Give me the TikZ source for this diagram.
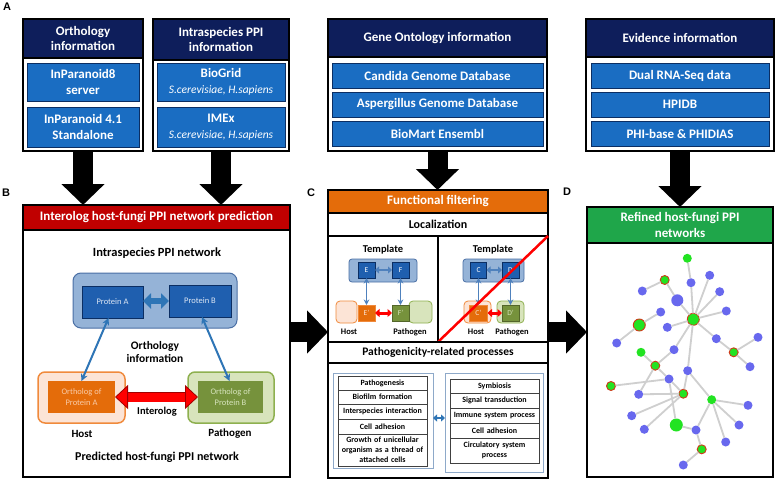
\documentclass[tikz,border=0pt]{standalone}
\usepackage{fontspec}
\setmainfont{Carlito}
\newfontfamily\labfont{Liberation Sans}
\usetikzlibrary{arrows.meta}
\definecolor{navy}{HTML}{0E1E5B}
\definecolor{dblue}{HTML}{1A6DC2}
\definecolor{dbline}{HTML}{0B2E63}
\definecolor{redhdr}{HTML}{C00000}
\definecolor{orghdr}{HTML}{E46C0A}
\definecolor{grnhdr}{HTML}{1FA64A}
\definecolor{bigrect}{HTML}{95B3D7}
\definecolor{bigrectline}{HTML}{4A6FA5}
\definecolor{protbox}{HTML}{1F5FAF}
\definecolor{prottext}{HTML}{DCE6F4}
\definecolor{orgin}{HTML}{E46C0A}
\definecolor{orgout}{HTML}{FCE4D6}
\definecolor{orgline}{HTML}{F08A3C}
\definecolor{orgtext}{HTML}{F9CBA8}
\definecolor{grnin}{HTML}{76923C}
\definecolor{grnout}{HTML}{D8E4BC}
\definecolor{grnline}{HTML}{8EB04F}
\definecolor{grntext}{HTML}{D7E4BD}
\definecolor{darkred}{HTML}{A00000}
\definecolor{arrblue}{HTML}{2E75B6}
\definecolor{thinblue}{HTML}{4F81BD}
\definecolor{framegray}{HTML}{8EA9C9}
\definecolor{nblue}{HTML}{6868EE}
\definecolor{ngreen}{HTML}{22E322}
\definecolor{nred}{HTML}{D03A1A}
\definecolor{edgegray}{HTML}{CFCFCF}
\begin{document}
\begin{tikzpicture}[x=1pt,y=-1pt,
 every node/.style={inner sep=0pt, outer sep=0pt},
 frame/.style={draw=black, line width=1.5pt, fill=white},
 hdr/.style={draw=black, line width=1.5pt, fill=navy, text=white, font=\bfseries\fontsize{13}{15.5}\selectfont, align=center},
 dbox/.style={draw=dbline, line width=0.8pt, fill=dblue, text=white, font=\bfseries\fontsize{13}{15.5}\selectfont, align=center},
 bigarr/.style={line width=20pt, -{Triangle[width=42pt,length=21pt]}},
 lab/.style={font=\labfont\bfseries\fontsize{11}{12}\selectfont},
 btxt/.style={font=\bfseries\fontsize{#1}{#1}\selectfont, align=center},
 row/.style={draw=black, line width=1.3pt, fill=white},
 trect/.style={draw=bigrectline, line width=0.8pt, fill=bigrect, rounded corners=3pt},
 pbox/.style={draw=dbline, line width=0.6pt, fill=protbox, text=white, font=\fontsize{7.5}{8}\selectfont},
 obox/.style={draw=orgline, line width=0.6pt, fill=orgin, text=orgout, font=\fontsize{7.5}{8}\selectfont},
 gbox/.style={draw=grnin!70!black, line width=0.6pt, fill=grnin, text=grnout, font=\fontsize{7.5}{8}\selectfont},
 hostbg/.style={draw=orgline, line width=0.8pt, fill=orgout, rounded corners=4pt},
 pathbg/.style={draw=grnline, line width=0.8pt, fill=grnout, rounded corners=4pt},
 thinarr/.style={draw=thinblue, line width=1.4pt, {Stealth[length=5.5pt,width=5.5pt]}-{Stealth[length=5.5pt,width=5.5pt]}},
 smallblue/.style={draw=thinblue, line width=2.6pt, {Triangle[width=7pt,length=4pt]}-{Triangle[width=7pt,length=4pt]}},
 smallred/.style={draw=red, line width=3pt, {Triangle[width=8pt,length=4.5pt]}-{Triangle[width=8pt,length=4.5pt]}},
 item/.style={draw=black!75, line width=0.6pt, fill=white, text width=89pt, align=center, font=\bfseries\fontsize{8}{9.8}\selectfont},
 nb/.style={circle, fill=nblue, minimum size=9pt},
 nbb/.style={nb, minimum size=12pt},
 ng/.style={circle, fill=ngreen, minimum size=9pt},
 ngb/.style={ng, minimum size=13pt},
 nr/.style={circle, fill=ngreen, draw=nred, line width=0.9pt, minimum size=9pt},
 nrb/.style={nr, minimum size=12pt},
 edge/.style={draw=edgegray, line width=1.8pt}
]
\useasboundingbox (0,0) rectangle (777,482);
\fill[white] (0,0) rectangle (777,482);

% ---------- panel labels
\node[lab] (lA) at (7,7) {A};
\node[lab] (lB) at (6,193) {B};
\node[lab] (lC) at (311,193) {C};
\node[lab] (lD) at (567,192) {D};

% ---------- top boxes
\node[frame, minimum width=120, minimum height=132] (o1) at (83,85) {};
\node[hdr, minimum width=120, minimum height=39] (h1) at (83,38.5) {Orthology\\information};
\node[dbox, minimum width=112, minimum height=38] (i11) at (83,82) {InParanoid8\\server};
\node[dbox, minimum width=112, minimum height=40] (i12) at (83,127) {InParanoid 4.1\\Standalone};

\node[frame, minimum width=136, minimum height=132] (o2) at (221,85) {};
\node[hdr, minimum width=136, minimum height=41] (h2) at (221,39.5) {Intraspecies PPI\\information};
\node[dbox, minimum width=128, minimum height=38] (i21) at (221,82) {BioGrid\\{\mdseries\itshape\fontsize{11.5}{13}\selectfont S.cerevisiae, H.sapiens}};
\node[dbox, minimum width=128, minimum height=40] (i22) at (221,127) {IMEx\\{\mdseries\itshape\fontsize{11.5}{13}\selectfont S.cerevisiae, H.sapiens}};

\node[frame, minimum width=219, minimum height=132] (o3) at (437.5,85) {};
\node[hdr, minimum width=219, minimum height=38] (h3) at (437.5,38) {Gene Ontology information};
\node[dbox, minimum width=211, minimum height=25] (i31) at (437.5,75.5) {Candida Genome Database};
\node[dbox, minimum width=211, minimum height=25] (i32) at (437.5,104.5) {Aspergillus Genome Database};
\node[dbox, minimum width=211, minimum height=25] (i33) at (437.5,133.5) {BioMart Ensembl};

\node[frame, minimum width=188, minimum height=132] (o4) at (680,85) {};
\node[hdr, minimum width=188, minimum height=38] (h4) at (680,38) {Evidence information};
\node[dbox, minimum width=178, minimum height=25] (i41) at (680,75.5) {Dual RNA-Seq data};
\node[dbox, minimum width=178, minimum height=25] (i42) at (680,104.5) {HPIDB};
\node[dbox, minimum width=178, minimum height=25] (i43) at (680,133.5) {PHI-base \& PHIDIAS};

% ---------- panel frames
\node[frame, minimum width=267, minimum height=272] (pB) at (156.5,341) {};
\node[frame, minimum width=220, minimum height=288] (pC) at (438,334) {};
\node[frame, minimum width=186, minimum height=270] (pD) at (680,342) {};

% ---------- big black arrows
\draw[bigarr] (o1.south) -- (o1.south |- pB.north);
\draw[bigarr] (o2.south) -- (o2.south |- pB.north);
\draw[bigarr] (o3.south) -- (o3.south |- pC.north);
\draw[bigarr] (o4.south) -- (o4.south |- pD.north);
\coordinate (midy) at (0,332);
\draw[bigarr] (pB.east |- midy) -- (pC.west |- midy);
\draw[bigarr] (pC.east |- midy) -- (pD.west |- midy);

% ---------- panel B
\node[draw=black, line width=1.5pt, fill=redhdr, text=white, font=\bfseries\fontsize{13}{15}\selectfont, minimum width=267, minimum height=25] (hB) at (156.5,217.5) {Interolog host-fungi PPI network prediction};
\node[btxt=12.5] (tIntra) at (157,253) {Intraspecies PPI network};
\node[draw=bigrectline, line width=1pt, fill=bigrect, rounded corners=8pt, minimum width=164, minimum height=55] (big) at (155,300.5) {};
\node[draw=dbline, line width=0.7pt, fill=protbox, text=prottext, font=\fontsize{8.5}{10}\selectfont, minimum width=61, minimum height=32] (protA) at (112.5,302) {Protein A};
\node[draw=dbline, line width=0.7pt, fill=protbox, text=prottext, font=\fontsize{8.5}{10}\selectfont, minimum width=62, minimum height=32] (protB) at (200,301) {Protein B};
\draw[draw=arrblue, line width=6pt, {Triangle[width=15pt,length=8pt]}-{Triangle[width=15pt,length=8pt]}] (protA.east |- protB) -- (protB.west);
\node[btxt=11.5] (tOrth) at (155,352) {Orthology\\[1pt]information};
\node[draw=orgline, line width=1.5pt, fill=orgout, rounded corners=7pt, minimum width=87, minimum height=51] (hostB) at (81.5,397.5) {};
\node[fill=orgin, text=orgtext, font=\fontsize{8.5}{10.5}\selectfont, align=center, minimum width=67, minimum height=32] (orthA) at (81.5,397) {Ortholog of\\Protein A};
\node[draw=grnline, line width=1.5pt, fill=grnout, rounded corners=7pt, minimum width=86, minimum height=51] (pathB) at (231,397.5) {};
\node[fill=grnin, text=grntext, font=\fontsize{8.5}{10.5}\selectfont, align=center, minimum width=65, minimum height=32] (orthB) at (230.5,397) {Ortholog of\\Protein B};
\draw[thinarr, draw=arrblue, line width=2pt, {Stealth[length=7pt,width=7pt]}-{Stealth[length=7pt,width=7pt]}] ([xshift=-4pt]protA.south) -- (orthA.north);
\draw[thinarr, draw=arrblue, line width=2pt, {Stealth[length=7pt,width=7pt]}-{Stealth[length=7pt,width=7pt]}] ([xshift=2pt]protB.south) -- ([xshift=-1pt]orthB.north);
\draw[draw=red, line width=9pt,
  {Triangle[width=24pt,length=13pt,fill=red,color=darkred,line width=0.8pt]}-{Triangle[width=24pt,length=13pt,fill=red,color=darkred,line width=0.8pt]},
  preaction={draw=darkred, line width=10.6pt, shorten <=12pt, shorten >=12pt, -}]
  (orthA.east) -- (orthB.west);
\node[btxt=10.5] (tInter) at (157,412) {Interolog};
\node[btxt=11] (tHostB) at (82,434) {Host};
\node[btxt=11] (tPathB) at (230,434) {Pathogen};
\node[btxt=12] (tPred) at (157,457) {Predicted host-fungi PPI network};

% ---------- panel C
\node[draw=black, line width=1.5pt, fill=orghdr, text=white, font=\bfseries\fontsize{13}{15}\selectfont, minimum width=220, minimum height=23] (hC) at (438,201.5) {Functional filtering};
\node[row, minimum width=220, minimum height=23, font=\bfseries\fontsize{12}{13}\selectfont] (loc) at (438,224.5) {Localization};
\node[row, minimum width=220, minimum height=106] (split) at (438,289) {};
\draw[line width=1.3pt] (split.north) -- (split.south);
% left template
\node[btxt=10.5] (tl) at (383,250) {Template};
\node[trect, minimum width=68, minimum height=23] (trl) at (383,270.5) {};
\node[pbox, minimum width=17, minimum height=16] (E) at (366.5,270) {E};
\node[pbox, minimum width=17, minimum height=16] (F) at (400.5,270) {F};
\draw[smallblue] (E.east) -- (F.west);
\node[hostbg, minimum width=21, minimum height=22] (hl) at (346.5,312) {};
\node[pathbg, minimum width=23, minimum height=22] (pl) at (420.5,312) {};
\node[obox, minimum width=17, minimum height=16] (Ep) at (366.5,313) {E'};
\node[gbox, minimum width=17, minimum height=16] (Fp) at (400.5,313) {F'};
\draw[smallred] (Ep.east) -- (Fp.west);
\draw[thinarr] (E.south) -- (Ep.north);
\draw[thinarr] (F.south) -- (Fp.north);
\node[btxt=8.5] (tHl) at (349,332) {Host};
\node[btxt=8.5] (tPl) at (410,332) {Pathogen};
% right template
\node[btxt=10.5] (tr) at (493,250) {Template};
\node[trect, minimum width=61, minimum height=23] (trr) at (493.5,270.5) {};
\node[pbox, minimum width=16, minimum height=16] (Cb) at (478.5,270) {C};
\node[pbox, minimum width=17, minimum height=16] (Db) at (510.5,270) {D};
\draw[smallblue] (Cb.east) -- (Db.west);
\node[hostbg, minimum width=27, minimum height=22] (hr) at (477.5,312) {};
\node[pathbg, minimum width=27, minimum height=22] (pr) at (510.5,312) {};
\node[obox, minimum width=18, minimum height=16] (Cp) at (478.5,313) {C'};
\node[gbox, minimum width=17, minimum height=16] (Dp) at (510.5,313) {D'};
\draw[smallred] (Cp.east) -- (Dp.west);
\draw[thinarr] (Cb.south) -- (Cp.north);
\draw[thinarr] (Db.south) -- (Dp.north);
\node[btxt=8.5] (tHr) at (476,332) {Host};
\node[btxt=8.5] (tPr) at (512,332) {Pathogen};
\draw[red, line width=2.5pt] (split.north east) -- (split.south);
% pathogenicity
\node[row, minimum width=220, minimum height=21, font=\bfseries\fontsize{11.5}{13}\selectfont] (patho) at (438,352.5) {Pathogenicity-related processes};
\node[draw=framegray, line width=1pt, fill=white, minimum width=100, minimum height=95] (lf) at (383,420.5) {};
\node[draw=framegray, line width=1pt, fill=white, minimum width=98, minimum height=99] (rf) at (494,422.5) {};
\node[item, minimum height=14] (l1) at (382.5,383) {Pathogenesis};
\node[item, minimum height=14] (l2) at (382.5,397) {Biofilm formation};
\node[item, minimum height=15] (l3) at (382.5,411.5) {Interspecies interaction};
\node[item, minimum height=15] (l4) at (382.5,426.5) {Cell adhesion};
\node[item, minimum height=32] (l5) at (382.5,450) {Growth of unicellular\\organism as a thread of\\attached cells};
\node[item, minimum height=14] (r1b) at (494.5,386) {Symbiosis};
\node[item, minimum height=15] (r2b) at (494.5,400.5) {Signal transduction};
\node[item, minimum height=15] (r3b) at (494.5,415.5) {Immune system process};
\node[item, minimum height=15] (r4b) at (494.5,430.5) {Cell adhesion};
\node[item, minimum height=25] (r5b) at (494.5,450.5) {Circulatory system\\process};
\coordinate (lsy) at (0,418);
\draw[draw=arrblue, line width=2.6pt, {Triangle[width=7pt,length=4pt]}-{Triangle[width=7pt,length=4pt]}] (lf.east |- lsy) -- (rf.west |- lsy);

% ---------- panel D
\node[draw=black, line width=1.5pt, fill=grnhdr, text=white, font=\bfseries\fontsize{13}{15.5}\selectfont, align=center, minimum width=186, minimum height=36] (hD) at (680,225) {Refined host-fungi PPI\\networks};

\node[ng] (g1) at (687.3,258.3) {};
\node[ng] (g2) at (641,352.3) {};
\node[ng] (g3) at (711.7,399.7) {};
\node[ngb] (g4) at (676.3,425) {};
\node[nr] (r1) at (664.7,280) {};
\node[nrb] (r2) at (639.3,325) {};
\node[nrb] (r3) at (693.3,319.3) {};
\node[nr] (r4) at (733.7,352.3) {};
\node[nr] (r5) at (655.3,365.7) {};
\node[nr] (r6) at (611,386) {};
\node[nr] (r7) at (683.3,393.7) {};
\node[nr] (r8) at (701.7,449.3) {};
\node[nb] (b1) at (642.3,291) {};
\node[nbb] (b2) at (677.3,300.3) {};
\node[nb] (b3) at (691,282.7) {};
\node[nb] (b4) at (709.7,275.3) {};
\node[nb] (b5) at (719.7,291.7) {};
\node[nb] (b6) at (726.3,311) {};
\node[nb] (b7) at (660.7,312) {};
\node[nb] (b8) at (667.3,327.3) {};
\node[nb] (b9) at (616.7,343) {};
\node[nb] (b10) at (674,349.7) {};
\node[nb] (b11) at (716.3,338.7) {};
\node[nb] (b12) at (758,337.3) {};
\node[nb] (b13) at (750,366.7) {};
\node[nb] (b14) at (687.7,370.7) {};
\node[nb] (b15) at (669,379) {};
\node[nb] (b16) at (638.7,394.3) {};
\node[nb] (b17) at (748,405.3) {};
\node[nb] (b18) at (631.7,415.7) {};
\node[nb] (b19) at (739,425) {};
\node[nb] (b20) at (644.3,429.3) {};
\node[nb] (b21) at (696,430) {};
\node[nb] (b22) at (725.7,442) {};
\node[nb] (b23) at (683.3,465) {};
\foreach \a/\b in {g1/b3,b3/r3,r3/b4,r3/b5,r3/b6,r3/b2,b2/r1,r1/b1,r3/b8,r3/b11,b11/r4,r4/b12,r4/b13,
  r3/b10,r3/b14,b14/r7,b14/g3,g3/b17,g3/b19,g3/b22,g3/b21,r2/b7,r2/b9,r5/g2,r5/b10,r5/b16,r5/b15,b15/r7,
  r6/b15,b15/g4,b16/r7,r7/b18,r7/b20,g4/b21,b21/r8,r8/b23}
  \draw[edge] (\a) -- (\b);
\end{tikzpicture}
\end{document}
